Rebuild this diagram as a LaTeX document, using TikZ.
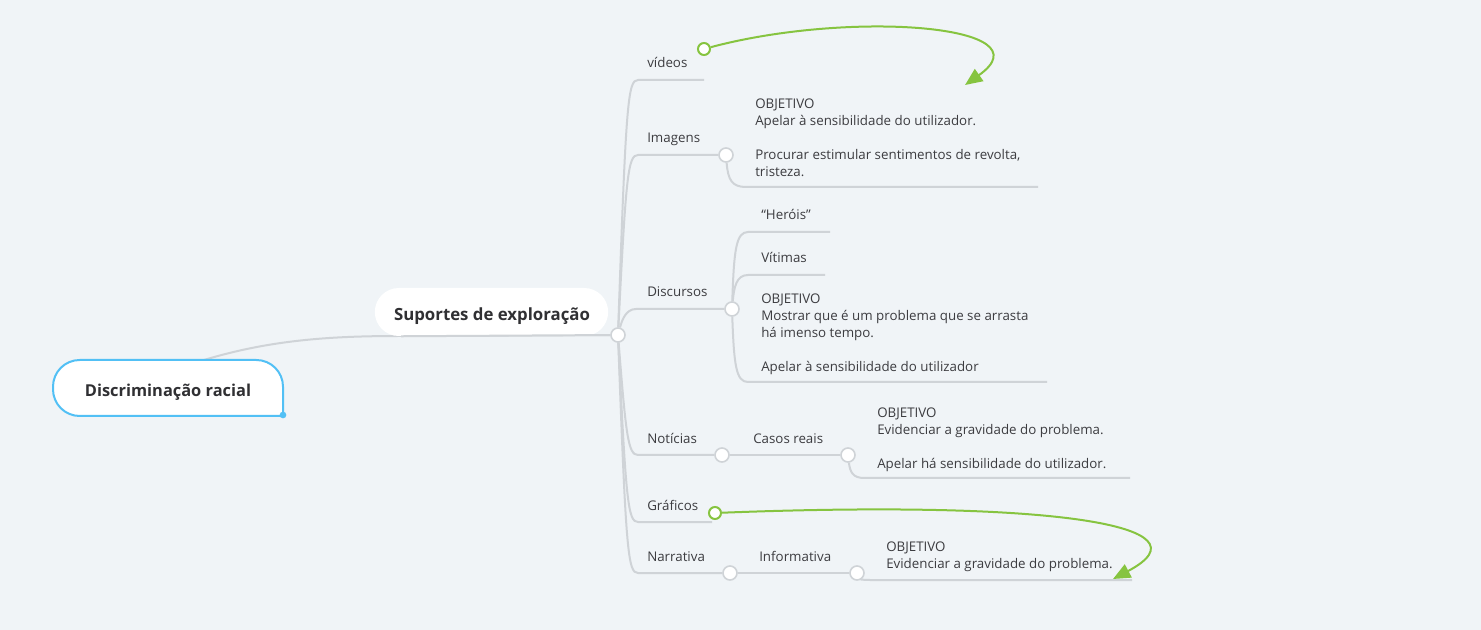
\documentclass[tikz,border=0pt]{standalone}
\usepackage{fontspec}
\setmainfont{Open Sans}
\usetikzlibrary{arrows.meta}
\definecolor{bgmap}{RGB}{240,244,247}
\definecolor{linegrey}{RGB}{207,211,215}
\definecolor{leafgreen}{RGB}{134,196,64}
\definecolor{rootblue}{RGB}{82,192,245}
\definecolor{inkgrey}{RGB}{60,60,64}
\colorlet{headink}{inkgrey!80!black}

\begin{document}
\begin{tikzpicture}[x=0.75pt, y=-0.75pt,
  branch/.style={draw=linegrey, line width=1.5pt},
  knob/.style={circle, draw=linegrey, line width=1.2pt, fill=white, minimum size=10.5pt, inner sep=0pt},
  gknob/.style={circle, draw=leafgreen, line width=1.5pt, fill=white, minimum size=9pt, inner sep=0pt},
  lbl/.style={anchor=base west, inner sep=0pt, text=inkgrey, font=\fontsize{10}{12.75}\selectfont},
  memo/.style={anchor=north west, inner sep=0pt, align=left, text=inkgrey, font=\fontsize{10}{12.75}\selectfont},
  headtext/.style={inner sep=0pt, text=headink, font=\fontsize{12.3}{14}\selectfont\bfseries},
  rel/.style={draw=leafgreen, line width=1.5pt, -{Triangle[length=13pt, width=11pt]}}]
\fill[bgmap] (0,0) rectangle (1481,630);

\node[knob] (hub) at (618,335) {};
\node[knob] (imgC) at (726,155) {};
\node[knob] (disC) at (732,309) {};
\node[knob] (notC) at (722,455) {};
\node[knob] (casC) at (848,455) {};
\node[knob] (narC) at (730,573) {};
\node[knob] (infC) at (857,573) {};
\node[gknob] (vidG) at (704,49) {};
\node[gknob] (graG) at (715,513) {};
\coordinate (vidR) at (704,80);
\coordinate (graR) at (712,522);
\coordinate (imgE) at (1038,187);
\coordinate (herE) at (830,232);
\coordinate (vitE) at (825,275);
\coordinate (disE) at (1047,382);
\coordinate (casE) at (1130,478);
\coordinate (infE) at (1132,580);
\coordinate (vidT) at (965,85);
\coordinate (graT) at (1113,579);

\draw[branch] (204,360) .. controls (270,340) and (330,336) .. (400,336) -- (hub);
\filldraw[draw=rootblue, fill=white, line width=1.5pt, rounded corners=20pt, line cap=rect]
  (283,416) -- (53,416) -- (53,360) -- (283,360) -- (283,416);
\fill[rootblue] (283,415) circle[radius=2.5pt];
\node[headtext] (root) at (168,392) {Discriminação racial};
\node[rectangle, rounded corners=18pt, fill=white, minimum width=175pt, minimum height=36pt] (supp) at (491.5,312) {};
\node[headtext, font=\fontsize{12.6}{14}\selectfont\bfseries] (suppT) at (492,316) {Suportes de exploração};
\draw[branch] (supp.south west) ++(20pt,0) -- (hub);

\draw[branch] (hub) .. controls (626,100) and (628,80) .. (638,80) -- (vidR);
\draw[branch] (hub) .. controls (626,175) and (628,155) .. (638,155) -- (imgC);
\draw[branch] (hub) .. controls (622,320) and (626,309) .. (636,309) -- (disC);
\draw[branch] (hub) .. controls (626,435) and (628,455) .. (638,455) -- (notC);
\draw[branch] (hub) .. controls (626,502) and (628,522) .. (638,522) -- (graR);
\draw[branch] (hub) .. controls (626,553) and (628,573) .. (638,573) -- (narC);

\draw[branch] (imgC) .. controls (728,180) and (732,187) .. (746,187) -- (imgE);
\draw[branch] (disC) .. controls (734,250) and (736,232) .. (748,232) -- (herE);
\draw[branch] (disC) .. controls (734,288) and (736,275) .. (748,275) -- (vitE);
\draw[branch] (disC) .. controls (734,365) and (736,382) .. (748,382) -- (disE);
\draw[branch] (notC) -- (casC);
\draw[branch] (casC) .. controls (850,472) and (853,478) .. (864,478) -- (casE);
\draw[branch] (narC) -- (infC);
\draw[branch] (infC) .. controls (860,579) and (862,580) .. (870,580) -- (infE);

\draw[rel] (vidG) .. controls (850,10) and (1050,25) .. (vidT);
\draw[rel] (graG) .. controls (1050,500) and (1215,525) .. (graT);

\node[lbl] (vid) at (647,68) {vídeos};
\node[lbl] (img) at (647,143) {Imagens};
\node[memo] (imgM) at (755,96.4) {\strut OBJETIVO\\Apelar à sensibilidade do utilizador.\\[12.75pt]Procurar estimular sentimentos de revolta,\\tristeza.};
\node[lbl] (dis) at (647,297) {Discursos};
\node[lbl] (her) at (761,220) {“Heróis”};
\node[lbl] (vit) at (761,263) {Vítimas};
\node[memo] (disM) at (761,291) {\strut OBJETIVO\\Mostrar que é um problema que se arrasta\\há imenso tempo.\\[12.75pt]Apelar à sensibilidade do utilizador};
\node[lbl] (not) at (647,444) {Notícias};
\node[lbl] (cas) at (753,444) {Casos reais};
\node[memo] (casM) at (877,405) {\strut OBJETIVO\\Evidenciar a gravidade do problema.\\[12.75pt]Apelar há sensibilidade do utilizador.};
\node[lbl] (gra) at (647,511) {Gráficos};
\node[lbl] (nar) at (647,561) {Narrativa};
\node[lbl] (inf) at (759,561) {Informativa};
\node[memo] (infM) at (886,539) {\strut OBJETIVO\\Evidenciar a gravidade do problema.};
\end{tikzpicture}
\end{document}
